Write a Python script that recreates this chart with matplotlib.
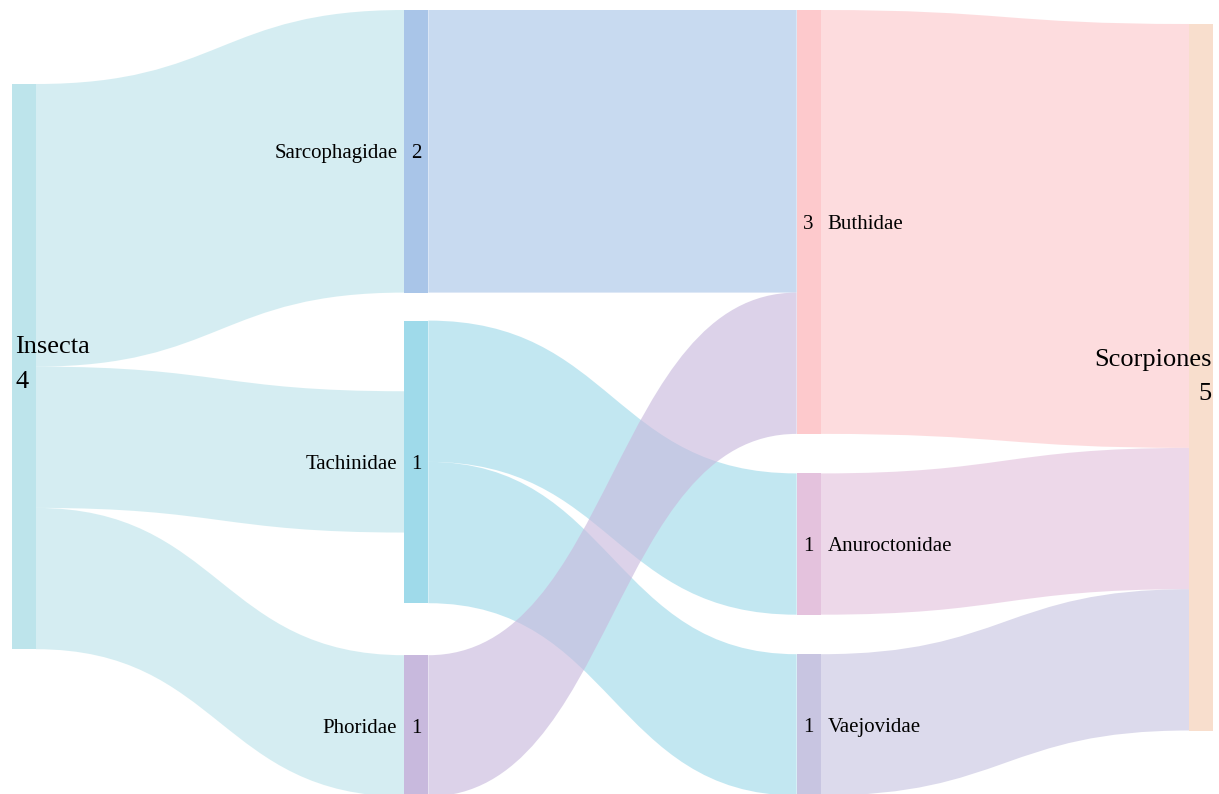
import matplotlib
matplotlib.use("Agg")
import matplotlib.pyplot as plt
from matplotlib.path import Path
from matplotlib.patches import PathPatch, Rectangle

# ---- data ----
nodes = ["Insecta", "Sarcophagidae", "Tachinidae", "Phoridae",
         "Buthidae", "Anuroctonidae", "Vaejovidae", "Scorpiones"]
node_column = [0, 1, 1, 1, 2, 2, 2, 3]
link_source = ["Insecta", "Insecta", "Insecta", "Sarcophagidae", "Tachinidae",
               "Tachinidae", "Phoridae", "Buthidae", "Anuroctonidae", "Vaejovidae"]
link_target = ["Sarcophagidae", "Tachinidae", "Phoridae", "Buthidae", "Anuroctonidae",
               "Vaejovidae", "Buthidae", "Scorpiones", "Scorpiones", "Scorpiones"]
link_value = [2, 1, 1, 2, 1, 1, 1, 3, 1, 1]

# ---- style / layout ----
node_colors = {
    "Insecta": "#bde4eb", "Sarcophagidae": "#a9c5e8", "Tachinidae": "#9fdaea",
    "Phoridae": "#c8b9dd", "Buthidae": "#fdc9cc", "Anuroctonidae": "#e4c2dd",
    "Vaejovidae": "#c8c5e1", "Scorpiones": "#f8decd",
}
link_alpha = 0.63
W, H = 1219, 794
node_w = 24
left_margin, right_margin = 12, 6
col_top = [84, 10, 10, 24]          # top offset of each column (px)
col_gaps = [[], [28, 52], [39.5, 39.5], []]  # gaps between stacked nodes (px)
scale = 141.3                        # px per unit

fig = plt.figure(figsize=(W / 100, H / 100), dpi=100)
ax = fig.add_axes([0, 0, 1, 1])
ax.set_xlim(0, W)
ax.set_ylim(H, 0)
ax.axis("off")

ncols = max(node_column) + 1
col_spacing = (W - left_margin - right_margin - node_w) / (ncols - 1)

in_sum = {n: 0 for n in nodes}
out_sum = {n: 0 for n in nodes}
for s, t, v in zip(link_source, link_target, link_value):
    out_sum[s] += v
    in_sum[t] += v
node_val = {n: max(in_sum[n], out_sum[n]) for n in nodes}

# node positions
pos = {}
for c in range(ncols):
    y = col_top[c]
    col_nodes = [n for n, cc in zip(nodes, node_column) if cc == c]
    for i, n in enumerate(col_nodes):
        h = node_val[n] * scale
        x = left_margin + c * col_spacing
        pos[n] = (x, y, h)
        y += h
        if i < len(col_gaps[c]):
            y += col_gaps[c][i]

# link offsets (centered stacks)
out_off = {n: pos[n][1] + (pos[n][2] - out_sum[n] * scale) / 2 for n in nodes}
in_off = {n: pos[n][1] + (pos[n][2] - in_sum[n] * scale) / 2 for n in nodes}

for s, t, v in zip(link_source, link_target, link_value):
    h = v * scale
    x0 = pos[s][0] + node_w
    x1 = pos[t][0]
    y0 = out_off[s]
    y1 = in_off[t]
    out_off[s] += h
    in_off[t] += h
    xm = (x0 + x1) / 2
    verts = [(x0, y0), (xm, y0), (xm, y1), (x1, y1),
             (x1, y1 + h),
             (xm, y1 + h), (xm, y0 + h), (x0, y0 + h),
             (x0, y0)]
    codes = [Path.MOVETO, Path.CURVE4, Path.CURVE4, Path.CURVE4,
             Path.LINETO,
             Path.CURVE4, Path.CURVE4, Path.CURVE4,
             Path.CLOSEPOLY]
    ax.add_patch(PathPatch(Path(verts, codes), facecolor=node_colors[s],
                           edgecolor="none", alpha=link_alpha, zorder=1))

font = "Liberation Serif"
for n, c in zip(nodes, node_column):
    x, y, h = pos[n]
    ax.add_patch(Rectangle((x, y), node_w, h, facecolor=node_colors[n],
                           edgecolor="none", zorder=2))
    label_val = in_sum[n] if in_sum[n] > 0 else out_sum[n]
    cy = y + h / 2
    if c == 0:
        ax.text(x + 3, cy - 2, f"{n}\n{label_val}", ha="left", va="center",
                fontsize=19, family=font, linespacing=1.75, zorder=3)
    elif c == ncols - 1:
        ax.text(x + node_w - 1, cy, f"{n}\n{label_val}", ha="right", va="center",
                multialignment="right", fontsize=19, family=font,
                linespacing=1.7, zorder=3)
    elif c == 1:
        ax.text(x - 7, cy, n, ha="right", va="center_baseline", fontsize=15,
                family=font, zorder=3)
        ax.text(x + node_w / 2, cy, str(label_val), ha="center",
                va="center_baseline", fontsize=15, family=font, zorder=3)
    else:
        ax.text(x + node_w + 7, cy, n, ha="left", va="center_baseline",
                fontsize=15, family=font, zorder=3)
        ax.text(x + node_w / 2, cy, str(label_val), ha="center",
                va="center_baseline", fontsize=15, family=font, zorder=3)

fig.savefig("out.png", dpi=100)
